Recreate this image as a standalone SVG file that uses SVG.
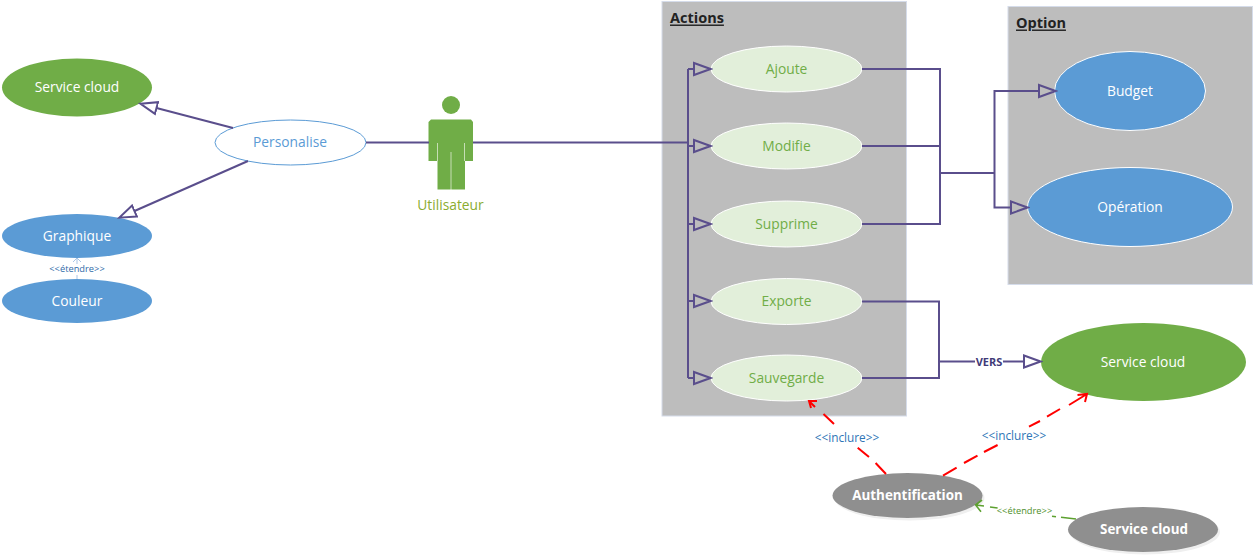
<svg xmlns="http://www.w3.org/2000/svg" width="1255" height="557" viewBox="0 0 1255 557">
<defs>
<style>
text{font-family:"Open Sans","Noto Sans","Liberation Sans",sans-serif;text-anchor:middle;dominant-baseline:central}
.pane{fill:#bdbdbd;stroke:#d5dcea;stroke-width:1}
.t{font-size:13.8px}
.w{fill:#fff}
.g{fill:#70ad47}
.b{fill:#5b9bd5}
.pg{fill:#e2efda;stroke:#fff;stroke-width:1}
.hd{font-size:14.5px;font-weight:700;fill:#222;text-decoration:underline;text-anchor:start}
.l{fill:none;stroke:#5a4e8c;stroke-width:2}
.a{marker-end:url(#tri)}
.r{fill:none;stroke:#f00;stroke-width:2}
.gl{fill:none;stroke:#5da130;stroke-width:1.6}
.lb{fill:none;stroke:#a9c5e6;stroke-width:1}
.gr{fill:#8f8f8f}
.sh{fill:#efefef}
.bd{font-size:13.4px;font-weight:700;fill:#fff}
.inc{font-size:11.8px;fill:#2e75b6}
.ext{font-size:9.3px}
</style>
<marker id="tri" markerUnits="userSpaceOnUse" markerWidth="20" markerHeight="16" refX="1" refY="8" orient="auto"><path d="M1 2 L17.500 8 L1 14Z" fill="none" stroke="#5a4e8c" stroke-width="2"/></marker>
</defs>
<g id="pane-actions"><rect class="pane" x="662" y="1.500" width="244.500" height="414.500"/><text class="hd" x="670" y="17">Actions</text></g>
<g id="pane-option"><rect class="pane" x="1008" y="6.500" width="244.500" height="278"/><text class="hd" x="1016" y="22">Option</text></g>
<g id="n-cloud-left"><ellipse class="g" cx="77" cy="87.500" rx="75" ry="29"/><text class="t w" x="77" y="86.200">Service cloud</text></g>
<g id="n-personalise"><ellipse cx="290.500" cy="142.500" rx="75.500" ry="22.500" fill="#fff" stroke="#5b9bd5"/><text class="t b" x="290" y="141.200">Personalise</text></g>
<g id="n-graphique"><ellipse class="b" cx="77" cy="236" rx="75" ry="22"/><text class="t w" x="77" y="235.200">Graphique</text></g>
<g id="n-couleur"><ellipse class="b" cx="77" cy="301" rx="75" ry="22"/><text class="t w" x="77" y="300.200">Couleur</text></g>
<g id="n-utilisateur"><circle class="g" cx="451" cy="105" r="9"/><path class="g" d="M431 119.500H471L473 122V161H465V189.500H437.500V161H428.500V122Z"/><path d="M451 152V190M437.500 143V161M464.500 143V161" stroke="#fff" stroke-width="1" fill="none" opacity=".6"/><text x="450.500" y="204.200" font-size="13.800" fill="#8aac2f">Utilisateur</text></g>
<g id="n-ajoute"><ellipse class="pg" cx="786.500" cy="69" rx="75.500" ry="23"/><text class="t g" x="786.500" y="68.200">Ajoute</text></g>
<g id="n-modifie"><ellipse class="pg" cx="786.500" cy="146" rx="75.500" ry="23"/><text class="t g" x="786.500" y="145.200">Modifie</text></g>
<g id="n-supprime"><ellipse class="pg" cx="786.500" cy="224" rx="75.500" ry="23"/><text class="t g" x="786.500" y="223.200">Supprime</text></g>
<g id="n-exporte"><ellipse class="pg" cx="786.500" cy="301.500" rx="75.500" ry="23"/><text class="t g" x="786.500" y="300.200">Exporte</text></g>
<g id="n-sauvegarde"><ellipse class="pg" cx="786.500" cy="378" rx="75.500" ry="23"/><text class="t g" x="786.500" y="377.200">Sauvegarde</text></g>
<g id="n-budget"><ellipse cx="1130" cy="91" rx="75.500" ry="39.500" fill="#5b9bd5" stroke="#fff"/><text class="t w" x="1130" y="90.200">Budget</text></g>
<g id="n-operation"><ellipse cx="1130" cy="207" rx="102.500" ry="39.500" fill="#5b9bd5" stroke="#fff"/><text class="t w" x="1130" y="206.200">Opération</text></g>
<g id="n-cloud-right"><ellipse class="g" cx="1143.500" cy="362" rx="102.500" ry="39"/><text class="t w" x="1143" y="361.200">Service cloud</text></g>
<g id="n-auth"><ellipse class="sh" cx="909.500" cy="498" rx="75" ry="22.500"/><ellipse class="gr" cx="907.500" cy="495.500" rx="75" ry="22.500"/><text class="bd" x="907.500" y="494.500">Authentification</text></g>
<g id="n-cloud-grey"><ellipse class="sh" cx="1145" cy="532" rx="75" ry="22.500"/><ellipse class="gr" cx="1143" cy="529.500" rx="75" ry="22.500"/><text class="bd" x="1144" y="528.500">Service cloud</text></g>
<g id="connectors">
<path class="l a" d="M233 128 L156.500 108"/>
<path class="l a" d="M248 161 L134.500 211"/>
<path class="lb" d="M77 279V275M77 264V258M73 262L77 258L81 262"/>
<path class="l" d="M366 142.500H429M473 142.500H688"/>
<path class="l" d="M688 69V378"/>
<path class="l a" d="M688 69H694"/>
<path class="l a" d="M688 146H694"/>
<path class="l a" d="M688 224H694"/>
<path class="l a" d="M688 301H694"/>
<path class="l a" d="M688 378H694"/>
<path class="l" d="M862 69H940V224H862M862 146H940M940 173H994.500"/>
<path class="l a" d="M994.500 173V91H1039"/>
<path class="l a" d="M994.500 173V207.500H1011"/>
<path class="l" d="M862 301.500H939V378H862"/>
<path class="l" d="M939 361.500H975"/>
<path class="l a" d="M1003 361.500H1024"/>
<text x="989" y="361.500" font-size="11" font-weight="700" fill="#3f3a78">VERS</text>
<path class="r" d="M886 474L875.600 463M869 457L857.700 447.700M834 424L823.500 414M815 407L809 401M817 401H809L811 408"/>
<path class="r" d="M943 475.700L956.600 467.700M964 463L977.500 455.700M984 452L997.600 445M1029 426.700L1040 421M1047 416.700L1060 409M1069 405L1087 394M1077.500 395L1087 394L1085 402"/>
<path class="gl" d="M1076 519L1061 517.300M1056 516.800L1052 516.200M997.600 508L990 507M975.600 505L984 506M982 500L975.600 505L981 511.700"/>
<text class="inc" x="847" y="436.500">&lt;&lt;inclure&gt;&gt;</text>
<text class="inc" x="1014" y="434.500">&lt;&lt;inclure&gt;&gt;</text>
<text class="ext" x="1024.500" y="510" fill="#4e8f2b">&lt;&lt;étendre&gt;&gt;</text>
<text class="ext" x="77" y="268" fill="#2f6aa8">&lt;&lt;étendre&gt;&gt;</text>
</g>
</svg>
